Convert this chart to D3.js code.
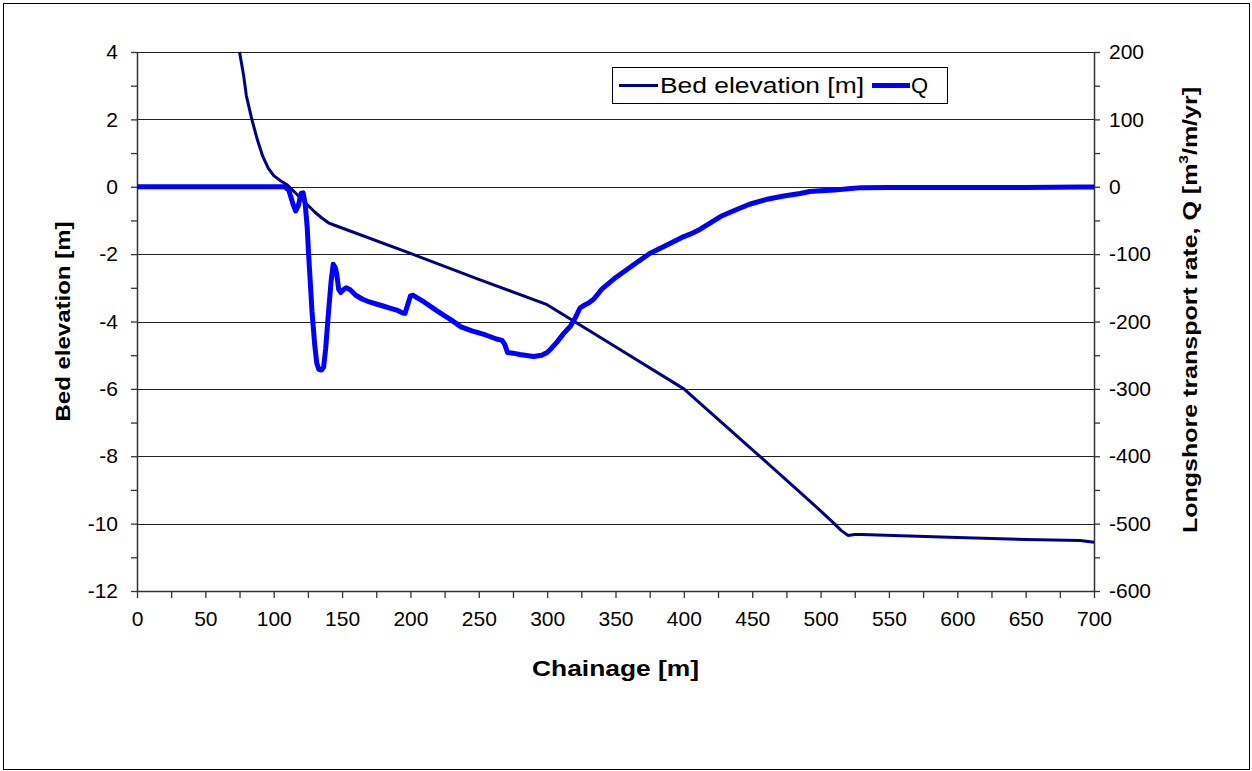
<!DOCTYPE html>
<html>
<head>
<meta charset="utf-8">
<script src="https://cdn.jsdelivr.net/npm/d3@7"></script>
<style>
  html, body { margin: 0; padding: 0; background: #fff; }
  svg { display: block; font-family: "Liberation Sans", Arial, sans-serif; }
</style>
</head>
<body>
<svg id="chart" width="1252" height="771"></svg>
<script>
// ---- Data ----
const bedChainage = [75, 78, 80, 84, 88, 92, 96, 100, 105, 110, 115, 120, 125, 130, 135, 140, 145, 200, 250, 300, 350, 400, 450, 483, 500, 510, 515, 520, 525, 530, 600, 650, 690, 700];
const bedElevation = [4, 3.3, 2.7, 2.0, 1.4, 0.9, 0.55, 0.33, 0.18, 0.05, -0.15, -0.35, -0.55, -0.75, -0.92, -1.07, -1.15, -1.98, -2.75, -3.5, -4.75, -6.0, -7.8, -9.0, -9.62, -10.0, -10.2, -10.35, -10.32, -10.32, -10.41, -10.47, -10.5, -10.55];

const qChainage = [0, 50, 100, 108, 111, 114, 116, 118, 120, 121.5, 123, 124.5, 125.5, 127, 128, 130, 131.5, 133, 135, 136.5, 138, 140, 142, 143.5, 145, 146, 147.5, 149, 151, 153, 156, 160, 165, 170, 175, 180, 185, 190, 194, 196, 198, 200, 202, 205, 210, 220, 230, 237, 245, 255, 263, 267, 269, 271, 275, 280, 290, 296, 300, 303, 307, 312, 317, 321, 324, 327, 330, 334, 340, 350, 363, 375, 388, 396, 400, 405, 412, 420, 428, 436, 448, 460, 472, 485, 492, 500, 510, 520, 530, 550, 600, 650, 690, 700];
const qValues = [0, 0, 0, 0, -5, -25, -36, -28, -10, -9, -25, -60, -100, -150, -185, -235, -262, -271, -272, -268, -240, -188, -140, -115, -120, -128, -152, -157, -153, -150, -153, -161, -167, -171, -174, -177, -180, -183, -187, -188, -175, -162, -161, -165, -171, -185, -198, -208, -214, -220, -226, -228, -234, -246, -247, -249, -252, -250, -246, -240, -231, -218, -207, -193, -180, -176, -173, -167, -152, -135, -116, -99, -86, -78, -74, -70, -63, -53, -43, -36, -26, -19, -14, -10, -7, -6, -5, -3, -1.3, -1, -1, -1, -0.5, -0.5];

const xTickValues = [0, 50, 100, 150, 200, 250, 300, 350, 400, 450, 500, 550, 600, 650, 700];
const yLeftTickValues = [4, 2, 0, -2, -4, -6, -8, -10, -12];
const yRightTickValues = [200, 100, 0, -100, -200, -300, -400, -500, -600];

const seriesNames = ["Bed elevation [m]", "Q"];
const xTitle = "Chainage [m]";
const yLeftTitle = "Bed elevation [m]";

// ---- Layout ----
const L = 137, R = 1094, T = 52, B = 591;
const svg = d3.select("#chart");

const x = d3.scaleLinear().domain([0, 700]).range([L, R]);
const yL = d3.scaleLinear().domain([-12, 4]).range([B, T]);
const yR = d3.scaleLinear().domain([-600, 200]).range([B, T]);

// outer border
svg.append("rect").attr("x", 3.5).attr("y", 3.5).attr("width", 1246).attr("height", 766)
  .attr("fill", "#fff").attr("stroke", "#000").attr("stroke-width", 1);

// gridlines
svg.append("g").selectAll("line").data(yLeftTickValues.filter(v => v > -12)).join("line")
  .attr("x1", L).attr("x2", R)
  .attr("y1", d => Math.round(yL(d)) + 0.5).attr("y2", d => Math.round(yL(d)) + 0.5)
  .attr("stroke", "#222").attr("stroke-width", 1);

// axes
const axisColor = "#333";
function styleAxis(g) {
  g.selectAll("path.domain").attr("stroke", axisColor).attr("stroke-width", 1.5);
  g.selectAll(".tick line").attr("stroke", axisColor).attr("stroke-width", 1.3);
  g.selectAll("text").attr("font-size", 21).attr("fill", "#000")
    .attr("font-family", "'Liberation Sans', Arial, sans-serif");
}

// minor ticks
const leftMinor = d3.range(-12, 4.001, 1);
const rightMinor = d3.range(-600, 200.001, 50);
const xMinor = d3.range(0, 700.001, 25);

const gx = svg.append("g").attr("transform", `translate(0,${B})`)
  .call(d3.axisBottom(x).tickValues(xMinor).tickSize(7).tickSizeOuter(0)
    .tickFormat(d => xTickValues.includes(d) ? d : ""));
styleAxis(gx);
gx.selectAll("text").attr("y", 20).attr("dy", "0.71em");

const gl = svg.append("g").attr("transform", `translate(${L},0)`)
  .call(d3.axisLeft(yL).tickValues(leftMinor).tickSize(6).tickSizeOuter(0)
    .tickFormat(d => yLeftTickValues.includes(d) ? d : ""));
styleAxis(gl);
gl.selectAll("text").attr("x", -19);

const gr = svg.append("g").attr("transform", `translate(${R},0)`)
  .call(d3.axisRight(yR).tickValues(rightMinor).tickSize(6).tickSizeOuter(0)
    .tickFormat(d => yRightTickValues.includes(d) ? d : ""));
styleAxis(gr);
gr.selectAll("text").attr("x", 15);

// series
const bedData = bedChainage.map((c, i) => [c, bedElevation[i]]);
const qData = qChainage.map((c, i) => [c, qValues[i]]);

svg.append("path").datum(bedData)
  .attr("fill", "none").attr("stroke", "#000080").attr("stroke-width", 3)
  .attr("stroke-linejoin", "round")
  .attr("d", d3.line().x(d => x(d[0])).y(d => yL(d[1])));

svg.append("path").datum(qData)
  .attr("fill", "none").attr("stroke", "#0000FF").attr("stroke-width", 5)
  .attr("stroke-linejoin", "round")
  .attr("d", d3.line().x(d => x(d[0])).y(d => yR(d[1])));

// titles
svg.append("text").attr("x", (L + R) / 2).attr("y", 676)
  .attr("text-anchor", "middle").attr("font-weight", "bold").attr("font-size", 22)
  .attr("textLength", 167).attr("lengthAdjust", "spacingAndGlyphs")
  .text(xTitle);

svg.append("text").attr("transform", `translate(70,${(T + B) / 2}) rotate(-90)`)
  .attr("text-anchor", "middle").attr("font-weight", "bold").attr("font-size", 21)
  .attr("textLength", 200).attr("lengthAdjust", "spacingAndGlyphs")
  .text(yLeftTitle);

const rt = svg.append("text").attr("transform", `translate(1197,310) rotate(-90)`)
  .attr("text-anchor", "middle").attr("font-weight", "bold").attr("font-size", 21)
  .attr("textLength", 446).attr("lengthAdjust", "spacingAndGlyphs");
rt.append("tspan").text("Longshore transport rate, Q [m");
rt.append("tspan").attr("font-size", 13).attr("dy", -9).text("3");
rt.append("tspan").attr("dy", 9).text("/m/yr]");

// legend
const lg = svg.append("g");
lg.append("rect").attr("x", 612.5).attr("y", 67.5).attr("width", 335).attr("height", 36)
  .attr("fill", "#fff").attr("stroke", "#000").attr("stroke-width", 1);
lg.append("line").attr("x1", 619).attr("x2", 658).attr("y1", 85.5).attr("y2", 85.5)
  .attr("stroke", "#000080").attr("stroke-width", 3);
lg.append("text").attr("x", 660).attr("y", 93).attr("font-size", 22)
  .attr("textLength", 204).attr("lengthAdjust", "spacingAndGlyphs").text(seriesNames[0]);
lg.append("line").attr("x1", 872).attr("x2", 910).attr("y1", 85.5).attr("y2", 85.5)
  .attr("stroke", "#0000FF").attr("stroke-width", 5);
lg.append("text").attr("x", 911).attr("y", 93).attr("font-size", 22).text(seriesNames[1]);
</script>
</body>
</html>
